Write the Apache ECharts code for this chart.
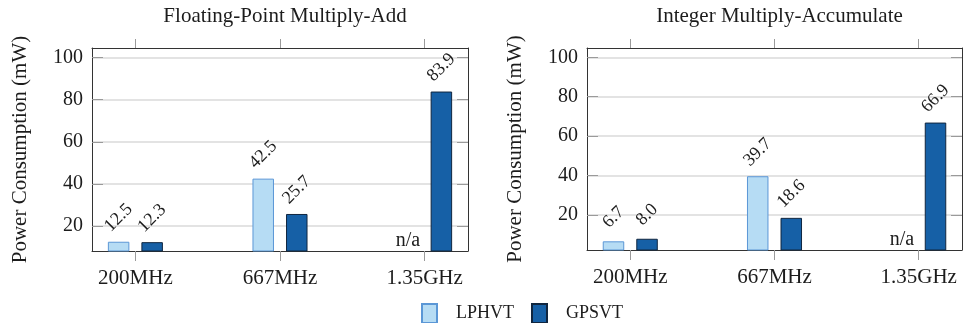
<!DOCTYPE html>
<html>
<head>
<meta charset="utf-8">
<script src="https://cdn.jsdelivr.net/npm/echarts@6/dist/echarts.min.js"></script>
<style>
html,body{margin:0;padding:0;background:#fff;}
#chart{width:963px;height:323px;}
</style>
</head>
<body>
<div id="chart"></div>
<script>
// ---- data ----
const categories = ['200MHz', '667MHz', '1.35GHz'];
const panelTitles = ['Floating-Point Multiply-Add', 'Integer Multiply-Accumulate'];
const seriesNames = ['LPHVT', 'GPSVT'];
const fpLPHVT = [12.5, 42.5, null];
const fpGPSVT = [12.3, 25.7, 83.9];
const intLPHVT = [6.7, 39.7, null];
const intGPSVT = [8.0, 18.6, 66.9];
const yTickValues = [20, 40, 60, 80, 100];
const yAxisName = 'Power Consumption (mW)';
const missingText = 'n/a';
const yRanges = [[8.1, 104.6], [2.3, 104.7]];

// ---- style ----
const FONT = '"Liberation Serif", "Times New Roman", serif';
const TXT = '#1c1c1c';
const FRAME = '#333333';
const TICK = '#9a9a9a';
const GRIDC = '#dadada';
const colors = {
  LPHVT: { fill: '#b6dcf4', border: '#5b97d6' },
  GPSVT: { fill: '#1660a6', border: '#10263f' }
};

const panels = [
  { lp: fpLPHVT, gp: fpGPSVT, grid: { left: 92, top: 48, width: 376, height: 203 } },
  { lp: intLPHVT, gp: intGPSVT, grid: { left: 587, top: 48, width: 375, height: 202 } }
];

const catIdx = categories.map((c, i) => i);
const grids = [], xAxes = [], yAxes = [], series = [], graphics = [];

panels.forEach((p, k) => {
  grids.push(Object.assign({ containLabel: false }, p.grid));
  const xBase = {
    type: 'value', gridIndex: k, min: -0.3, max: 2.3,
    splitLine: { show: false },
    axisLine: { show: true, onZero: false, lineStyle: { color: FRAME, width: 1 } }
  };
  xAxes.push(Object.assign({}, xBase, {
    position: 'bottom',
    axisTick: { show: true, inside: false, length: 10, customValues: catIdx, lineStyle: { color: TICK, width: 1 } },
    axisLabel: {
      show: true, customValues: catIdx, margin: 17,
      formatter: v => categories[Math.round(v)],
      fontFamily: FONT, fontSize: 21, color: TXT
    }
  }));
  xAxes.push(Object.assign({}, xBase, {
    position: 'top',
    axisTick: { show: true, inside: false, length: 9, customValues: catIdx, lineStyle: { color: TICK, width: 1 } },
    axisLabel: { show: false }
  }));
  const yBase = {
    type: 'value', gridIndex: k, min: yRanges[k][0], max: yRanges[k][1],
    axisLine: { show: true, onZero: false, lineStyle: { color: FRAME, width: 1 } },
    axisTick: { show: true, inside: true, length: 11, customValues: yTickValues, lineStyle: { color: TICK, width: 1 } }
  };
  yAxes.push(Object.assign({}, yBase, {
    position: 'left',
    name: yAxisName, nameLocation: 'middle', nameGap: 61, nameRotate: 90,
    nameTextStyle: { fontFamily: FONT, fontSize: 21, color: TXT },
    axisLabel: { show: true, customValues: yTickValues, margin: 9, fontFamily: FONT, fontSize: 20, color: TXT },
    splitLine: { show: true, lineStyle: { color: GRIDC, width: 1.5 } }
  }));
  yAxes.push(Object.assign({}, yBase, {
    position: 'right',
    axisLabel: { show: false },
    splitLine: { show: false }
  }));

  const mk = (name, vals) => ({
    name: name, type: 'bar',
    xAxisIndex: 2 * k, yAxisIndex: 2 * k,
    barWidth: 21.5, barGap: '56%',
    itemStyle: { color: colors[name].fill, borderColor: colors[name].border, borderWidth: 1 },
    label: {
      show: true, position: 'top', distance: 24, rotate: 45,
      align: 'center', verticalAlign: 'middle',
      fontFamily: FONT, fontSize: 18, color: TXT,
      formatter: prm => prm.value[1].toFixed(1)
    },
    // a missing value becomes a zero-height slot on the axis floor labelled "n/a"
    data: vals.map((v, i) => v == null ? {
      value: [i, yRanges[k][0]],
      itemStyle: { color: 'rgba(0,0,0,0)', borderWidth: 0 },
      label: { show: true, rotate: 0, distance: 0, align: 'center', verticalAlign: 'bottom', fontSize: 20, formatter: missingText }
    } : [i, v])
  });
  series.push(mk('LPHVT', p.lp));
  series.push(mk('GPSVT', p.gp));

  graphics.push({
    type: 'text',
    x: p.grid.left + p.grid.width / 2 + 5, y: 16,
    style: { text: panelTitles[k], fontFamily: FONT, fontSize: 21, fill: TXT, align: 'center', verticalAlign: 'middle' }
  });
});

const chart = echarts.init(document.getElementById('chart'), null, { renderer: 'canvas' });
chart.setOption({
  animation: false,
  backgroundColor: '#ffffff',
  grid: grids,
  xAxis: xAxes,
  yAxis: yAxes,
  series: series,
  graphic: graphics,
  legend: {
    data: seriesNames,
    left: 416, top: 298,
    icon: 'rect', itemWidth: 15, itemHeight: 19, itemGap: 17,
    textStyle: { fontFamily: FONT, fontSize: 18, color: TXT, padding: [0, 0, 0, 14] }
  }
});
</script>
</body>
</html>
